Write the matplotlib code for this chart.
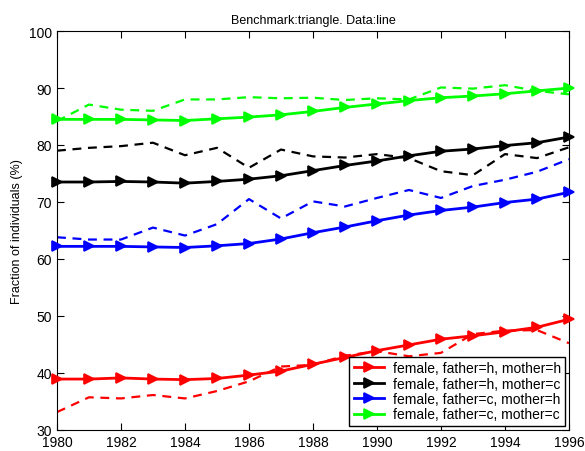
import numpy as np
import matplotlib.pyplot as plt

plt.rcParams['font.family'] = ['Liberation Sans', 'DejaVu Sans']

years = np.arange(1980, 1997)

# solid lines (model)
red_model = [38.9, 38.9, 39.1, 38.9, 38.8, 39.0, 39.6, 40.3, 41.5, 42.7, 43.9, 44.9, 45.9, 46.5, 47.2, 48.0, 49.4]
black_model = [73.5, 73.5, 73.6, 73.5, 73.3, 73.6, 74.0, 74.6, 75.5, 76.4, 77.2, 78.1, 78.9, 79.3, 79.9, 80.4, 81.4]
blue_model = [62.2, 62.2, 62.2, 62.1, 62.0, 62.3, 62.7, 63.5, 64.6, 65.6, 66.7, 67.7, 68.5, 69.1, 69.9, 70.5, 71.7]
green_model = [84.5, 84.5, 84.5, 84.4, 84.3, 84.6, 84.9, 85.3, 85.9, 86.6, 87.2, 87.8, 88.3, 88.6, 89.0, 89.5, 90.0]

# dashed lines (data)
red_data = [33.1, 35.7, 35.5, 36.1, 35.5, 36.8, 38.5, 41.1, 41.4, 43.0, 43.8, 42.9, 43.5, 46.8, 47.4, 47.5, 45.2]
black_data = [79.0, 79.5, 79.8, 80.4, 78.2, 79.5, 76.0, 79.2, 78.0, 77.8, 78.4, 77.7, 75.4, 74.7, 78.4, 77.7, 79.6]
blue_data = [63.8, 63.4, 63.4, 65.5, 64.1, 66.1, 70.5, 67.1, 70.1, 69.2, 70.7, 72.1, 70.7, 72.8, 73.9, 75.3, 77.5]
green_data = [84.2, 87.1, 86.2, 86.0, 88.0, 88.0, 88.4, 88.2, 88.3, 87.9, 88.2, 88.0, 90.1, 89.9, 90.5, 89.5, 88.9]

labels = ['female, father=h, mother=h', 'female, father=h, mother=c',
          'female, father=c, mother=h', 'female, father=c, mother=c']
colors = ['#ff0000', '#000000', '#0000ff', '#00ff00']

fig = plt.figure(figsize=(5.85, 4.52), dpi=100)
ax = fig.add_axes([0.0974, 0.047, 0.8752, 0.882])

models = [red_model, black_model, blue_model, green_model]
datas = [red_data, black_data, blue_data, green_data]

handles = []
for m, d, c, lab in zip(models, datas, colors, labels):
    h, = ax.plot(years, m, '->', color=c, lw=2, markersize=7, mew=1.2, label=lab, clip_on=False, zorder=3)
    ax.plot(years, d, '--', color=c, lw=1.6, dashes=(4, 3), zorder=2)
    handles.append(h)

ax.set_xlim(1980, 1996)
ax.set_ylim(30, 100)
ax.set_xticks(np.arange(1980, 1997, 2))
ax.set_yticks(np.arange(30, 101, 10))
ax.tick_params(direction='in', top=True, right=True, labelsize=10, length=5)
ax.tick_params(axis='x', pad=4)
ax.set_ylabel('Fraction of individuals (%)', fontsize=9)
ax.set_title('Benchmark:triangle. Data:line', fontsize=9)

leg = ax.legend(handles=handles, loc='lower right', fontsize=10, fancybox=False,
                edgecolor='black', framealpha=1, borderaxespad=0.3,
                handlelength=2.2, labelspacing=0.1, borderpad=0.3, handletextpad=0.6)
leg.get_frame().set_linewidth(1.0)

fig.savefig('out.png', dpi=100)
